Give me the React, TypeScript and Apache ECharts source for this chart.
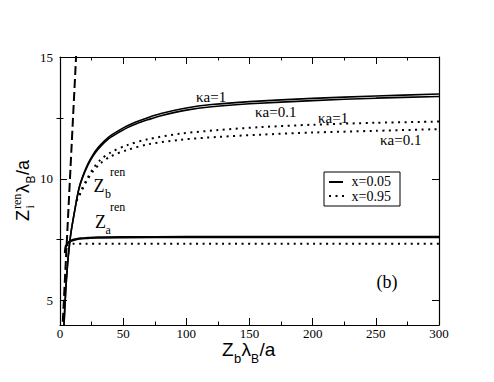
import React, { useEffect, useRef } from "react";
import * as echarts from "echarts";

// ---- data ----
const xTicks = [0, 50, 100, 150, 200, 250, 300];
const yMajorTicks = [5, 10, 15];
const yMinorTicks = [7.5, 12.5];

// Z_b^ren, x = 0.05 (solid), two kappa*a values
const zbSolidX = [2.8, 4.5, 6, 7.5, 9, 12, 15, 18, 22, 26, 30, 35, 40, 47, 53, 60, 70, 80, 100, 120, 150, 200, 250, 300];
const zbSolidK1Y = [3.6, 5.4, 6.5, 7.3, 7.9, 8.8, 9.6, 10.1, 10.6, 10.98, 11.27, 11.55, 11.77, 12.0, 12.17, 12.33, 12.52, 12.68, 12.91, 13.05, 13.17, 13.3, 13.4, 13.48];
const zbSolidK01Y = [3.6, 5.4, 6.5, 7.3, 7.9, 8.8, 9.6, 10.07, 10.55, 10.92, 11.2, 11.48, 11.7, 11.92, 12.09, 12.25, 12.43, 12.59, 12.82, 12.96, 13.08, 13.21, 13.31, 13.38];

// Z_b^ren, x = 0.95 (dotted)
const zbDotX = [13, 15, 17, 21, 26, 32, 40, 53, 70, 95, 125, 158, 200, 250, 300];
const zbDotK1Y = [9.1, 9.3, 9.55, 9.95, 10.4, 10.78, 11.08, 11.38, 11.63, 11.85, 12.0, 12.12, 12.22, 12.3, 12.35];
const zbDotK01Y = [9.1, 9.28, 9.5, 9.9, 10.3, 10.63, 10.92, 11.18, 11.42, 11.6, 11.72, 11.81, 11.9, 11.97, 12.04];

// Z_a^ren
const zaSolidX = [4.0, 4.5, 5.5, 7, 9, 12, 16, 22, 30, 50, 100, 200, 300];
const zaSolidY = [6.95, 7.2, 7.32, 7.4, 7.46, 7.51, 7.55, 7.57, 7.59, 7.6, 7.61, 7.61, 7.61];
const zaDotX = [4.0, 4.5, 5.5, 7, 10, 20, 50, 100, 200, 300];
const zaDotY = [7.0, 7.2, 7.27, 7.31, 7.33, 7.34, 7.34, 7.34, 7.34, 7.34];

// dashed straight line
const dashX = [1.7, 13.1];
const dashY = [3.6, 15.4];

const SERIF = "Liberation Serif";
const SANS = "Liberation Sans";

const pairs = (xs: number[], ys: number[]) => xs.map((x, i) => [x, ys[i]]);

const txt = (text: string, x: number, baseline: number, size: number, family: string) => ({
  type: "text",
  x,
  y: baseline - 0.34 * size,
  silent: true,
  style: { text, fontSize: size, fontFamily: family, fill: "#000", align: "left", verticalAlign: "middle" },
});

export default function App() {
  const ref = useRef<HTMLDivElement>(null);
  useEffect(() => {
    if (!ref.current) return;
    const chart = echarts.init(ref.current, null, { renderer: "svg" });
    const lineBase = (name: string, data: number[][], width: number, type: any) => ({
      name,
      type: "line",
      data,
      xAxisIndex: 0,
      yAxisIndex: 0,
      showSymbol: false,
      symbol: "none",
      smooth: 0.3,
      clip: true,
      lineStyle: { color: "#000", width, type, cap: "butt" },
      silent: true,
    });
    const axisCommonX = {
      type: "value",
      min: xTicks[0],
      max: xTicks[xTicks.length - 1],
      interval: 50,
      axisLine: { show: true, onZero: false, lineStyle: { color: "#000", width: 1.2 } },
      axisTick: { show: true, inside: true, length: 7, lineStyle: { color: "#000", width: 1 } },
      minorTick: { show: true, splitNumber: 2, length: 3.5, lineStyle: { color: "#000", width: 1 } },
      splitLine: { show: false },
      minorSplitLine: { show: false },
    };
    const yBase = {
      type: "value",
      min: 4,
      max: 15,
      splitLine: { show: false },
      axisLine: { show: true, onZero: false, lineStyle: { color: "#000", width: 1.2 } },
    };
    chart.setOption({
      animation: false,
      backgroundColor: "#fff",
      textStyle: { fontFamily: SERIF },
      grid: { left: 60, top: 57, width: 379, height: 268, containLabel: false },
      xAxis: [
        {
          ...axisCommonX,
          position: "bottom",
          axisLabel: {
            color: "#000",
            fontFamily: SERIF,
            fontSize: 13,
            margin: 2,
            showMinLabel: true,
            showMaxLabel: true,
            hideOverlap: false,
          },
        },
        { ...axisCommonX, position: "top", axisLabel: { show: false } },
      ],
      yAxis: [
        {
          ...yBase,
          position: "left",
          axisTick: { show: true, inside: true, length: 7, customValues: yMajorTicks, lineStyle: { color: "#000" } },
          axisLabel: {
            color: "#000",
            fontFamily: SERIF,
            fontSize: 13,
            margin: 7,
            showMinLabel: true,
            showMaxLabel: true,
            customValues: yMajorTicks,
          },
        },
        {
          ...yBase,
          position: "left",
          axisLine: { show: false },
          axisTick: { show: true, inside: true, length: 3.5, customValues: yMinorTicks, lineStyle: { color: "#000" } },
          axisLabel: { show: false },
        },
        {
          ...yBase,
          position: "right",
          axisTick: { show: true, inside: true, length: 7, customValues: yMajorTicks, lineStyle: { color: "#000" } },
          axisLabel: { show: false },
        },
        {
          ...yBase,
          position: "right",
          axisLine: { show: false },
          axisTick: { show: true, inside: true, length: 3.5, customValues: yMinorTicks, lineStyle: { color: "#000" } },
          axisLabel: { show: false },
        },
      ],
      series: [
        lineBase("dashed", pairs(dashX, dashY), 2, [9, 4]),
        lineBase("Zb x=0.05 ka=1", pairs(zbSolidX, zbSolidK1Y), 1.6, "solid"),
        lineBase("Zb x=0.05 ka=0.1", pairs(zbSolidX, zbSolidK01Y), 1.6, "solid"),
        lineBase("Zb x=0.95 ka=1", pairs(zbDotX, zbDotK1Y), 2, [2, 4.5]),
        lineBase("Zb x=0.95 ka=0.1", pairs(zbDotX, zbDotK01Y), 2, [2, 4.5]),
        lineBase("Za x=0.05", pairs(zaSolidX, zaSolidY), 2.4, "solid"),
        lineBase("Za x=0.95", pairs(zaDotX, zaDotY), 2, [2, 4.5]),
      ],
      graphic: [
        // x axis title Z_b λ_B / a
        txt("Z", 222, 356, 19, SANS),
        txt("b", 234, 363, 13, SANS),
        txt("λ", 241.5, 356, 19, SANS),
        txt("B", 251, 363, 12, SANS),
        txt("/a", 259.5, 356, 19, SANS),
        // y axis title (rotated)
        {
          type: "group",
          x: 29,
          y: 221,
          rotation: Math.PI / 2,
          silent: true,
          children: [
            txt("Z", 0, 0, 18, SANS),
            txt("ren", 12, -7.5, 12, SERIF),
            txt("i", 12.5, 5, 12, SERIF),
            txt("λ", 28, 0, 18, SANS),
            txt("B", 37.5, 6.5, 12, SANS),
            txt("/a", 46, 0, 18, SANS),
          ],
        },
        // curve labels
        txt("κa=1", 196, 101.7, 15, SERIF),
        txt("κa=0.1", 255, 117.3, 15, SERIF),
        txt("κa=1", 318, 123, 15, SERIF),
        txt("κa=0.1", 380, 145, 15, SERIF),
        txt("Z", 93.5, 191.7, 18, SERIF),
        txt("b", 105, 198, 12, SERIF),
        txt("ren", 110, 176.5, 12, SERIF),
        txt("Z", 95, 228.3, 18, SERIF),
        txt("a", 105.5, 234, 12, SERIF),
        txt("ren", 110, 211.5, 12, SERIF),
        txt("(b)", 376.5, 288, 18, SERIF),
        // legend
        {
          type: "rect",
          silent: true,
          shape: { x: 324, y: 172, width: 76, height: 34 },
          style: { fill: "#fff", stroke: "#000", lineWidth: 1 },
        },
        {
          type: "line",
          silent: true,
          shape: { x1: 329, y1: 182, x2: 343, y2: 182 },
          style: { stroke: "#000", lineWidth: 2 },
        },
        {
          type: "line",
          silent: true,
          shape: { x1: 329, y1: 196, x2: 345, y2: 196 },
          style: { stroke: "#000", lineWidth: 2, lineDash: [2, 4.5] },
        },
        txt("x=0.05", 351.5, 186, 14, SERIF),
        txt("x=0.95", 351.5, 201.5, 14, SERIF),
      ],
    });
    return () => chart.dispose();
  }, []);
  return (
    <div
      ref={ref}
      style={{ position: "fixed", left: 0, top: 0, width: 494, height: 382, background: "#fff" }}
    />
  );
}
